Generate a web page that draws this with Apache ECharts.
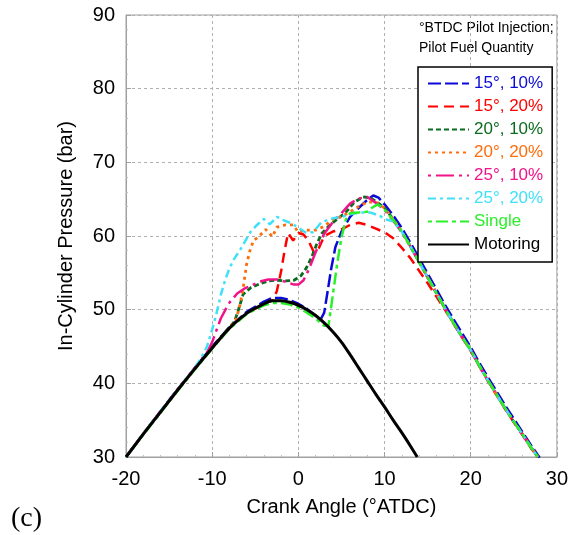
<!DOCTYPE html>
<html>
<head>
<meta charset="utf-8">
<script src="https://cdn.jsdelivr.net/npm/echarts@6/dist/echarts.min.js"></script>
<style>
  html, body {margin:0; padding:0; background:#fff;}
  #chart {width:571px; height:535px;}
</style>
</head>
<body>
<div id="chart"></div>
<script>
// crank angle (°ATDC) and pressure (bar)
const xMotoring = [-20,-18,-16,-14,-12,-10,-8,-6,-5,-4,-3,-2,-1,0,1,2,3,4,5,6,7,8,9,10,11,12,13,13.8];
const pMotoring = [30,33.1,36.1,39.1,42,44.8,47.5,49.5,50.2,50.8,51.2,51.2,51,50.6,50,49.2,48.2,47,45.6,43.9,42.1,40.3,38.5,36.8,35,33.3,31.5,30];

const x15_10 = [-20,-18,-16,-14,-12,-10,-8,-6,-4,-3,-2,-1,0,1,2,2.6,3,3.4,3.8,4.3,5,6,7,8,8.7,9.3,10,11,12,13,14,15,16,17,18,19,20,21,22,23,24,25,26,27,28];
const p15_10 = [30,33.1,36.2,39.2,42.1,45,47.6,49.7,51.1,51.6,51.6,51.3,50.8,50.1,49.2,48.7,49.6,52.5,55.5,58.5,60.6,62.6,63.8,64.9,65.5,65.2,64.3,62.8,61.1,59.1,57,54.9,52.8,50.7,48.7,46.8,44.9,42.8,40.8,38.9,37,35.2,33.4,31.6,29.9];

const x15_20 = [-20,-18,-16,-14,-12,-10,-8,-6,-4,-3,-2.5,-2,-1.6,-1.2,-0.6,0,0.6,1.2,1.8,2.4,3,4,5,6,7,8,9,10,11,12,13,14,15,16,17,18,19,20,21,22,23,24,25,26,27,27.8];
const p15_20 = [30,33.1,36.1,39.1,42,44.8,47.5,49.5,50.8,51.3,52.5,55.2,58,60.4,59.4,60.4,60.2,59.3,57.8,58.4,60,60.6,60.9,61.5,61.8,61.5,61,60.5,59.7,58.4,57,55.3,53.6,51.8,50,48.1,46.2,44.4,42.3,40.3,38.4,36.5,34.7,33,31.2,30];

const x20_10 = [-20,-18,-16,-14,-12,-10,-8,-7.4,-7,-6.4,-5.5,-4.5,-3.5,-2.5,-1.5,-0.5,0.3,0.9,1.5,2.1,2.7,3.5,4.5,5.5,6.5,7.5,8.3,9,10,11,12,13,14,15,16,17,18,19,20,21,22,23,24,25,26,27,27.8];
const p20_10 = [30,33.1,36.1,39.1,42,44.8,47.6,48.4,49.8,52.1,53,53.5,53.9,54,53.9,54,54.6,55.6,57,58.8,60.3,61.3,62.3,63.2,64.6,65.3,65.2,64.7,63.8,62.3,60.6,58.6,56.5,54.4,52.3,50.2,48.2,46.3,44.5,42.4,40.4,38.5,36.6,34.8,33.1,31.3,30];

const x20_20 = [-20,-18,-16,-14,-12,-10,-8,-7.3,-6.8,-6.4,-6,-5.6,-5.2,-4.6,-3.8,-3,-2.5,-1.5,-0.6,0,0.8,2,3,4,5,6,7,8,9,10,11,12,13,14,15,16,17,18,19,20,21,22,23,24,25,26,27,27.8];
const p20_20 = [30,33.1,36.1,39.1,42,44.8,47.6,48.4,50.5,53,56.2,58.1,59.4,59.9,60.9,59.9,61.2,61.5,61.5,60.5,60.8,60.8,61.3,62.3,62.6,63.3,64,64.6,64.6,63.8,62.3,60.6,58.6,56.5,54.4,52.3,50.2,48.2,46.3,44.5,42.4,40.4,38.5,36.6,34.8,33.1,31.3,30];

const x25_10 = [-20,-18,-16,-14,-12,-10.5,-10,-9.5,-9,-8.1,-7.1,-6.2,-5.4,-4.5,-3.5,-2.5,-1.5,-0.5,0,0.6,1.2,2,3,4,5,6,7,8,9,10,11,12,13,14,15,16,17,18,19,20,21,22,23,24,25,26,27,27.8];
const p25_10 = [30,33.2,36.2,39.2,42.1,44.4,45.6,47.2,48.8,50.8,52.2,52.9,53.3,53.8,54.1,54.1,53.8,53.4,53.4,54,55.4,57.8,60.3,61.9,63.1,64.4,65.1,65.3,64.5,63.5,62.1,60.5,58.6,56.5,54.4,52.3,50.2,48.2,46.3,44.5,42.4,40.4,38.5,36.6,34.8,33.1,31.3,30];

const x25_20 = [-20,-18,-16,-14,-12,-11.2,-10.6,-10,-9.5,-9,-8.5,-8,-7.5,-6.5,-5.6,-4.8,-4,-3.3,-2.5,-1.8,-1,-0.2,0.8,1.7,2.7,4,5,6.2,7.3,8.3,9.3,10.3,11,12,13,14,15,16,17,18,19,20,21,22,23,24,25,26,27,27.8];
const p25_20 = [30,33.2,36.2,39.2,42.1,43.6,45,47.3,49.5,52,54,55.6,56.8,58.6,60.5,61.5,62.3,61.6,62.6,62.2,61.8,61.3,60.5,60.5,61.9,62.4,62.6,63,63.2,63.2,62.8,62.2,62,60.6,58.6,56.5,54.4,52.3,50.2,48.2,46.3,44.5,42.4,40.4,38.5,36.6,34.8,33.1,31.3,30];

const xSingle = [-20,-18,-16,-14,-12,-10,-8,-6,-4,-3,-2,-1,0,1,2,3,3.5,4,4.5,5,5.5,6,7,8,8.5,9.2,10,11,12,13,14,15,16,17,18,19,20,21,22,23,24,25,26,27,27.8];
const pSingle = [30,33,36,39,41.9,44.7,47.4,49.4,50.6,50.9,50.9,50.7,50.3,49.6,48.8,47.8,47.8,52,56.2,59.8,62.2,63.1,63.2,63.3,63.8,64.3,63.6,62.2,60.6,58.6,56.5,54.4,52.3,50.2,48.2,46.3,44.5,42.4,40.4,38.5,36.6,34.8,33.1,31.3,30];

const seriesNames = ['15°, 10%','15°, 20%','20°, 10%','20°, 20%','25°, 10%','25°, 20%','Single','Motoring'];
const seriesX = [x15_10, x15_20, x20_10, x20_20, x25_10, x25_20, xSingle, xMotoring];
const seriesP = [p15_10, p15_20, p20_10, p20_20, p25_10, p25_20, pSingle, pMotoring];
const colors = ['#0a0ad8','#ff0000','#0b6b1f','#ff6d0a','#f0138a','#40e0f8','#2af02a','#000000'];
const dashes = [[13,4],[10,6],[5,3],[3,4],[3,5,18,5],[8,4,3,4],[4,4,12,4],'solid'];
const widths = [2.5,2.5,2.8,2.8,2.5,2.5,2.5,3];

const font = 'Liberation Sans, Arial, sans-serif';

let chart = echarts.init(document.getElementById('chart'));

let series = seriesNames.map((name, i) => ({
  name: name,
  type: 'line',
  data: seriesX[i].map((x, j) => [x, seriesP[i][j]]),
  showSymbol: false,
  symbol: 'none',
  smooth: i === 7 ? 0.3 : false,
  clip: true,
  color: colors[i],
  lineStyle: {color: colors[i], width: widths[i], type: dashes[i]},
  z: i === 7 ? 5 : 3
}));

let gridLine = {show: true, lineStyle: {color: '#b0b0b0', type: [3,3], width: 1}};
let axisLine = {show: true, onZero: false, lineStyle: {color: '#a0a0a0', width: 1}};

chart.setOption({
  animation: false,
  grid: {left: 126, right: 14, top: 15, bottom: 78, show: true, borderColor: '#a0a0a0', borderWidth: 1},
  xAxis: [{
    type: 'value', min: -20, max: 30, interval: 10,
    name: 'Crank Angle (°ATDC)', nameLocation: 'middle', nameGap: 40,
    nameTextStyle: {fontFamily: font, fontSize: 20, color: '#000'},
    axisLine: axisLine,
    axisTick: {show: true, inside: true, length: 5, lineStyle: {color: '#a0a0a0'}},
    minorTick: {show: true, splitNumber: 5, length: 2, lineStyle: {color: '#c0c0c0'}},
    axisLabel: {fontFamily: font, fontSize: 20, color: '#000', margin: 12},
    splitLine: gridLine
  }],
  yAxis: [{
    type: 'value', min: 30, max: 90, interval: 10,
    name: 'In-Cylinder Pressure (bar)', nameLocation: 'middle', nameGap: 50,
    nameTextStyle: {fontFamily: font, fontSize: 20, color: '#000'},
    axisLine: axisLine,
    axisTick: {show: true, inside: true, length: 5, lineStyle: {color: '#a0a0a0'}},
    minorTick: {show: true, splitNumber: 5, length: 2, lineStyle: {color: '#c0c0c0'}},
    axisLabel: {fontFamily: font, fontSize: 20, color: '#000', margin: 11},
    splitLine: gridLine
  }],
  legend: {
    orient: 'vertical', left: 418, top: 67,
    backgroundColor: '#fff', borderColor: '#000', borderWidth: 1.5,
    padding: [8, 9, 9, 9], itemGap: 6, itemWidth: 41, itemHeight: 14,
    itemStyle: {opacity: 0, color: 'transparent', borderWidth: 0},
    textStyle: {fontFamily: font, fontSize: 17},
    data: seriesNames.map((n, i) => ({name: n, textStyle: {color: colors[i]}}))
  },
  graphic: [
    {type: 'text', left: 419, top: 21, style: {text: '°BTDC Pilot Injection;', font: '14px ' + font, fill: '#000'}},
    {type: 'text', left: 419, top: 41, style: {text: 'Pilot Fuel Quantity', font: '14px ' + font, fill: '#000'}},
    {type: 'text', left: 11, top: 505, style: {text: '(c)', font: '28px Liberation Serif, Times New Roman, serif', fill: '#000'}}
  ],
  series: series
});
</script>
</body>
</html>
